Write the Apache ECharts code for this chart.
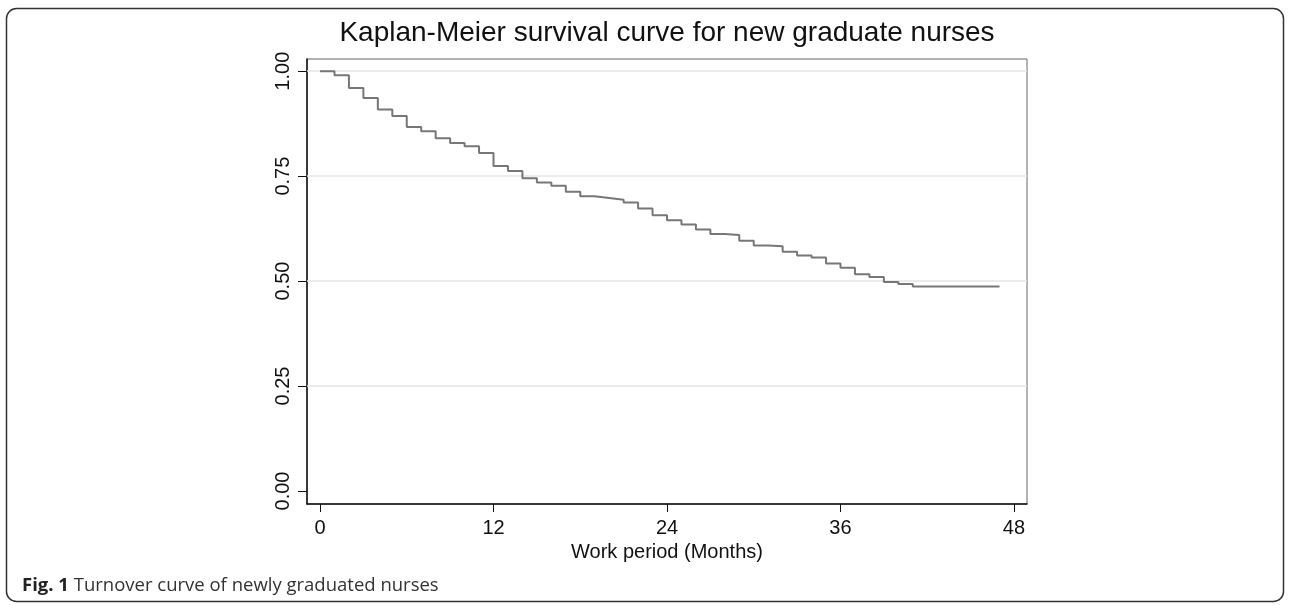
<!DOCTYPE html>
<html>
<head>
<meta charset="utf-8">
<script src="https://cdn.jsdelivr.net/npm/echarts@6/dist/echarts.min.js"></script>
<style>
  html, body { margin: 0; padding: 0; background: #fff; }
  #chart { width: 1290px; height: 605px; }
</style>
</head>
<body>
<div id="chart"></div>
<script>
// survival estimates (month of drop, survival after drop)
const months = [0, 1, 2, 3, 4, 5, 6, 7, 8, 9, 10, 11, 12, 13, 14, 15, 16, 17, 18, 19, 20,
  21, 22, 23, 24, 25, 26, 27, 28, 29, 30, 31, 32, 33, 34, 35, 36, 37, 38, 39, 40, 41, 47];
const survival = [1.000, 0.990, 0.960, 0.936, 0.909, 0.893, 0.867, 0.857, 0.840, 0.829, 0.821,
  0.805, 0.774, 0.762, 0.745, 0.735, 0.727, 0.713, 0.702, 0.698, 0.694, 0.687, 0.673, 0.657,
  0.645, 0.635, 0.623, 0.612, 0.610, 0.596, 0.585, 0.583, 0.570, 0.561, 0.556, 0.542, 0.532,
  0.516, 0.510, 0.498, 0.493, 0.487, 0.487];
const xTicks = [0, 12, 24, 36, 48];
const yTicks = [0, 0.25, 0.5, 0.75, 1];
const gridValues = [0.25, 0.5, 0.75, 1];

const chart = echarts.init(document.getElementById('chart'));
const font = '"Liberation Sans", Arial, Helvetica, sans-serif';

const option = {
  animation: false,
  backgroundColor: '#fff',
  grid: {
    left: 307, right: 263, top: 59, bottom: 101,
    show: true, borderColor: '#666', borderWidth: 1
  },
  xAxis: {
    type: 'value',
    min: -0.9, max: 48.9,
    name: 'Work period (Months)',
    nameLocation: 'middle',
    nameGap: 38,
    nameTextStyle: { fontFamily: font, fontSize: 20, color: '#111' },
    axisLine: { onZero: false, lineStyle: { color: '#111', width: 1.5 } },
    axisTick: { customValues: xTicks, length: 8, lineStyle: { color: '#111' } },
    axisLabel: { customValues: xTicks, fontFamily: font, fontSize: 20, color: '#111', margin: 14 },
    splitLine: { show: false }
  },
  yAxis: {
    type: 'value',
    min: -0.031, max: 1.029,
    axisLine: { show: true, onZero: false, lineStyle: { color: '#111', width: 1.5 } },
    axisTick: { show: true, customValues: yTicks, length: 9, lineStyle: { color: '#111' } },
    axisLabel: {
      customValues: yTicks, rotate: 90, fontFamily: font, fontSize: 20, color: '#111', margin: 14,
      formatter: v => v.toFixed(2)
    },
    splitLine: { show: false }
  },
  series: [
    {
      type: 'line',
      data: [],
      z: 1,
      silent: true,
      markLine: {
        z: 1,
        silent: true,
        symbol: 'none',
        label: { show: false },
        lineStyle: { color: '#e4e4e4', type: 'solid', width: 1.5 },
        data: gridValues.map(v => ({ yAxis: v }))
      }
    },
    {
      type: 'line',
      step: 'end',
      z: 6,
      showSymbol: false,
      lineStyle: { color: '#777', width: 2 },
      data: months.map((m, i) => [m, survival[i]])
    }
  ],
  graphic: [
    {
      type: 'rect',
      shape: { x: 6.5, y: 8.5, width: 1277, height: 593, r: 10 },
      style: { fill: 'none', stroke: '#333', lineWidth: 1.5 },
      silent: true
    },
    {
      type: 'text',
      x: 667, y: 47,
      style: {
        text: 'Kaplan-Meier survival curve for new graduate nurses',
        font: '28px ' + font,
        fill: '#111',
        textAlign: 'center',
        textVerticalAlign: 'bottom'
      }
    },
    {
      type: 'text',
      x: 22, y: 595,
      style: {
        text: '{b|Fig. 1} Turnover curve of newly graduated nurses',
        fontFamily: '"Open Sans", sans-serif',
        fontSize: 18.5,
        fill: '#333',
        textVerticalAlign: 'bottom',
        rich: {
          b: { fontFamily: '"Open Sans", sans-serif', fontSize: 18.5, fontWeight: 'bold', fill: '#222' }
        }
      }
    }
  ]
};

chart.setOption(option);
</script>
</body>
</html>
